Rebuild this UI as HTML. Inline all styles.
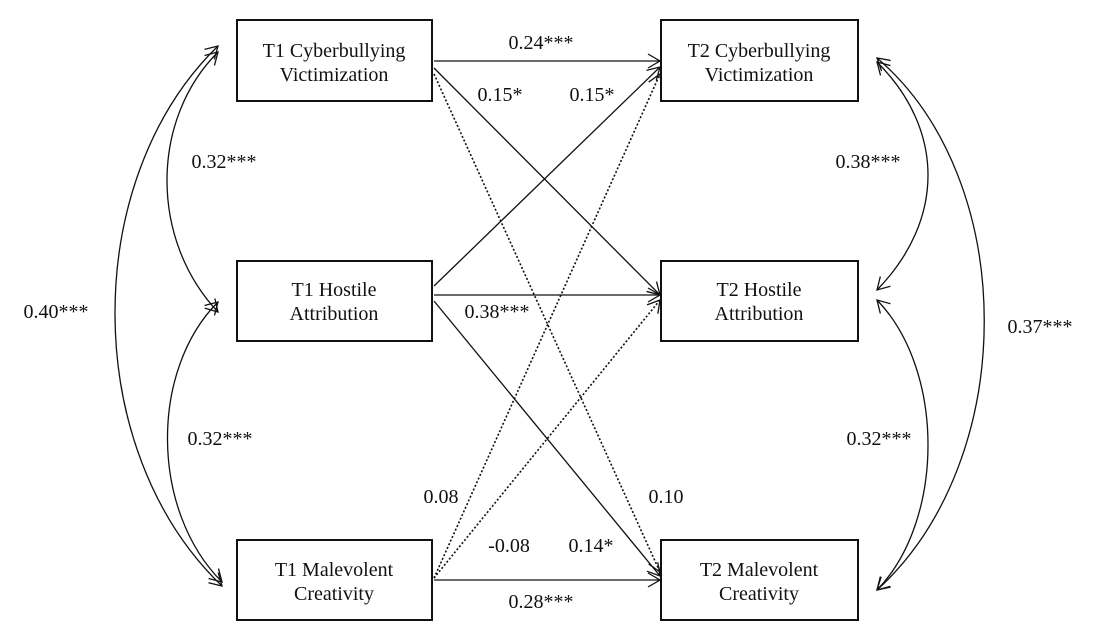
<!DOCTYPE html><html><head><style>body{margin:0;background:#fff}svg{display:block}text{font-family:"Liberation Serif",serif;font-size:20px;fill:#111}</style></head><body>
<svg width="1117" height="639" viewBox="0 0 1117 639">
<defs><marker id="a" markerWidth="16" markerHeight="16" refX="13" refY="8" orient="auto-start-reverse" markerUnits="userSpaceOnUse"><path d="M1,1 L13,8 L1,15" fill="none" stroke="#111" stroke-width="1.3"/></marker></defs>
<g fill="none" stroke="#111" stroke-width="2">
<rect x="237" y="20" width="195" height="81"/><rect x="237" y="261" width="195" height="80"/><rect x="237" y="540" width="195" height="80"/>
<rect x="661" y="20" width="197" height="81"/><rect x="661" y="261" width="197" height="80"/><rect x="661" y="540" width="197" height="80"/>
</g>
<g fill="none" stroke="#111" stroke-width="1.3" marker-end="url(#a)">
<line x1="434" y1="61" x2="660" y2="61"/>
<line x1="434" y1="68" x2="660" y2="295"/>
<line x1="434" y1="295" x2="660" y2="295"/>
<line x1="434" y1="286" x2="660" y2="67"/>
<line x1="434" y1="301" x2="660" y2="576"/>
<line x1="434" y1="580" x2="660" y2="580"/>
<line x1="434" y1="74" x2="660" y2="572" stroke-dasharray="2,2" stroke-width="1.6"/>
<line x1="434" y1="578" x2="660" y2="74" stroke-dasharray="2,2" stroke-width="1.6"/>
<line x1="434" y1="578" x2="660" y2="300" stroke-dasharray="2,2" stroke-width="1.6"/>
<path d="M218,52 C150,120 150,240 218,312" marker-start="url(#a)"/>
<path d="M218,302 C150,370 150,510 222,582" marker-start="url(#a)"/>
<path d="M218,46 C80,180 80,450 222,586" marker-start="url(#a)"/>
<path d="M877,62 C945,130 945,220 877,290" marker-start="url(#a)"/>
<path d="M877,300 C945,370 945,520 877,590" marker-start="url(#a)"/>
<path d="M877,58 C1020,180 1020,460 877,590" marker-start="url(#a)"/>
</g>
<g text-anchor="middle">
<text x="334" y="57">T1 Cyberbullying</text><text x="334" y="81">Victimization</text>
<text x="334" y="296">T1 Hostile</text><text x="334" y="320">Attribution</text>
<text x="334" y="576">T1 Malevolent</text><text x="334" y="600">Creativity</text>
<text x="759" y="57">T2 Cyberbullying</text><text x="759" y="81">Victimization</text>
<text x="759" y="296">T2 Hostile</text><text x="759" y="320">Attribution</text>
<text x="759" y="576">T2 Malevolent</text><text x="759" y="600">Creativity</text>
<text x="541" y="49">0.24***</text><text x="500" y="101">0.15*</text><text x="592" y="101">0.15*</text>
<text x="224" y="168">0.32***</text><text x="56" y="318">0.40***</text><text x="220" y="445">0.32***</text>
<text x="497" y="318">0.38***</text><text x="441" y="503">0.08</text><text x="666" y="503">0.10</text>
<text x="509" y="552">-0.08</text><text x="591" y="552">0.14*</text><text x="541" y="608">0.28***</text>
<text x="868" y="168">0.38***</text><text x="1040" y="333">0.37***</text><text x="879" y="445">0.32***</text>
</g>
</svg></body></html>
